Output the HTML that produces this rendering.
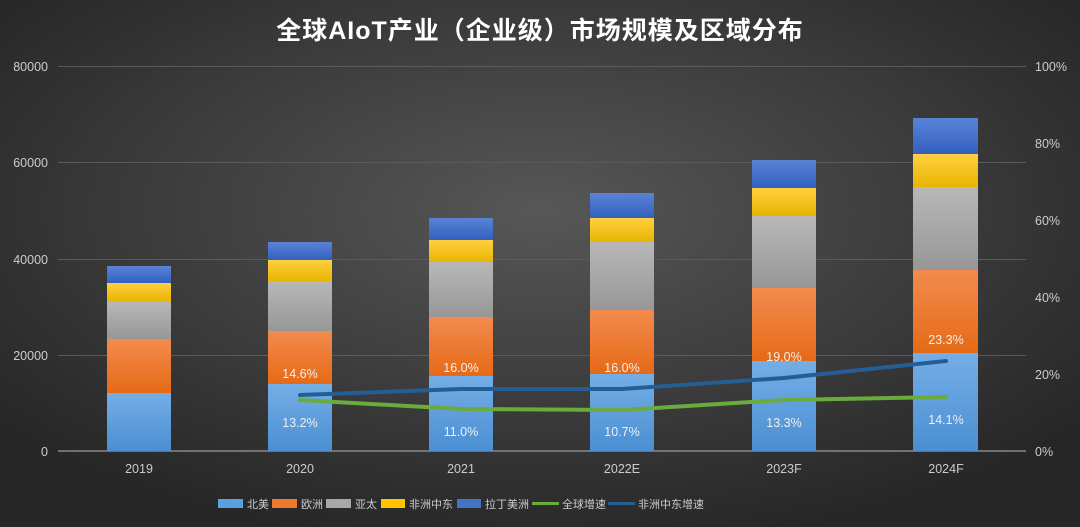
<!DOCTYPE html>
<html><head><meta charset="utf-8"><style>
html,body{margin:0;padding:0;width:1080px;height:527px;overflow:hidden;background:#333}
svg{display:block;font-family:"Liberation Sans","Noto Sans CJK SC",sans-serif}
</style></head><body>
<svg width="1080" height="527" viewBox="0 0 1080 527">
<defs>
<radialGradient id="bg" cx="50%" cy="40%" r="65%">
<stop offset="0" stop-color="#575757"/><stop offset="1" stop-color="#262626"/></radialGradient>
<linearGradient id="gb" x1="0" y1="0" x2="0" y2="1"><stop offset="0" stop-color="#75aee6"/><stop offset="1" stop-color="#4a8fd2"/></linearGradient>
<linearGradient id="go" x1="0" y1="0" x2="0" y2="1"><stop offset="0" stop-color="#f28b4e"/><stop offset="1" stop-color="#e66a17"/></linearGradient>
<linearGradient id="gg" x1="0" y1="0" x2="0" y2="1"><stop offset="0" stop-color="#b8b8b8"/><stop offset="1" stop-color="#979797"/></linearGradient>
<linearGradient id="gy" x1="0" y1="0" x2="0" y2="1"><stop offset="0" stop-color="#ffd040"/><stop offset="1" stop-color="#e8b500"/></linearGradient>
<linearGradient id="gd" x1="0" y1="0" x2="0" y2="1"><stop offset="0" stop-color="#5a83d6"/><stop offset="1" stop-color="#3260bf"/></linearGradient>
</defs>
<rect width="1080" height="527" fill="url(#bg)"/>
<text x="540" y="39" fill="#fff" font-size="25" font-weight="bold" letter-spacing="1" text-anchor="middle">全球AIoT产业（企业级）市场规模及区域分布</text>
<g stroke="#5a5a5a" stroke-width="1">
<line x1="58" y1="66.5" x2="1026" y2="66.5"/><line x1="58" y1="162.5" x2="1026" y2="162.5"/>
<line x1="58" y1="259.5" x2="1026" y2="259.5"/><line x1="58" y1="355.5" x2="1026" y2="355.5"/>
</g>
<line x1="58" y1="451" x2="1026" y2="451" stroke="#888" stroke-width="1.5"/>
<g fill="#ccc" font-size="12.5" text-anchor="end">
<text x="48" y="71">80000</text><text x="48" y="167">60000</text><text x="48" y="264">40000</text><text x="48" y="360">20000</text><text x="48" y="456">0</text>
</g>
<g fill="#ccc" font-size="12.5" text-anchor="start">
<text x="1035" y="71">100%</text><text x="1035" y="148">80%</text><text x="1035" y="225">60%</text><text x="1035" y="302">40%</text><text x="1035" y="379">20%</text><text x="1035" y="456">0%</text>
</g>
<g id="bars">
<rect x="107" y="393" width="64" height="58" fill="url(#gb)"/><rect x="107" y="339" width="64" height="54" fill="url(#go)"/><rect x="107" y="301" width="64" height="38" fill="url(#gg)"/><rect x="107" y="283" width="64" height="18" fill="url(#gy)"/><rect x="107" y="266" width="64" height="17" fill="url(#gd)"/>
<rect x="268" y="384" width="64" height="67" fill="url(#gb)"/><rect x="268" y="331" width="64" height="53" fill="url(#go)"/><rect x="268" y="281" width="64" height="50" fill="url(#gg)"/><rect x="268" y="260" width="64" height="21" fill="url(#gy)"/><rect x="268" y="242" width="64" height="18" fill="url(#gd)"/>
<rect x="429" y="376" width="64" height="75" fill="url(#gb)"/><rect x="429" y="317" width="64" height="59" fill="url(#go)"/><rect x="429" y="262" width="64" height="55" fill="url(#gg)"/><rect x="429" y="240" width="64" height="22" fill="url(#gy)"/><rect x="429" y="218" width="64" height="22" fill="url(#gd)"/>
<rect x="590" y="374" width="64" height="77" fill="url(#gb)"/><rect x="590" y="310" width="64" height="64" fill="url(#go)"/><rect x="590" y="242" width="64" height="68" fill="url(#gg)"/><rect x="590" y="218" width="64" height="24" fill="url(#gy)"/><rect x="590" y="193" width="64" height="25" fill="url(#gd)"/>
<rect x="752" y="361" width="64" height="90" fill="url(#gb)"/><rect x="752" y="288" width="64" height="73" fill="url(#go)"/><rect x="752" y="216" width="64" height="72" fill="url(#gg)"/><rect x="752" y="188" width="64" height="28" fill="url(#gy)"/><rect x="752" y="160" width="64" height="28" fill="url(#gd)"/>
<rect x="913" y="353" width="65" height="98" fill="url(#gb)"/><rect x="913" y="270" width="65" height="83" fill="url(#go)"/><rect x="913" y="187" width="65" height="83" fill="url(#gg)"/><rect x="913" y="154" width="65" height="33" fill="url(#gy)"/><rect x="913" y="118" width="65" height="36" fill="url(#gd)"/>
</g>
<polyline points="300,400 461,409 622,410 784,400 946,397" fill="none" stroke="#6aab3e" stroke-width="4" stroke-linejoin="round" stroke-linecap="round"/>
<polyline points="300,395 461,389 622,389 784,378 946,361" fill="none" stroke="#245e95" stroke-width="4" stroke-linejoin="round" stroke-linecap="round"/>
<g fill="#f0f0f0" font-size="12.5" text-anchor="middle">
<text x="300" y="378">14.6%</text><text x="461" y="372">16.0%</text><text x="622" y="372">16.0%</text><text x="784" y="361">19.0%</text><text x="946" y="344">23.3%</text>
<text x="300" y="427">13.2%</text><text x="461" y="436">11.0%</text><text x="622" y="436">10.7%</text><text x="784" y="427">13.3%</text><text x="946" y="424">14.1%</text>
</g>
<g fill="#ccc" font-size="12.5" text-anchor="middle">
<text x="139" y="473">2019</text><text x="300" y="473">2020</text><text x="461" y="473">2021</text><text x="622" y="473">2022E</text><text x="784" y="473">2023F</text><text x="946" y="473">2024F</text>
</g>
<g font-size="11" fill="#ccc">
<rect x="218" y="499" width="25" height="9" fill="#5aa0e0"/><text x="247" y="508">北美</text>
<rect x="272" y="499" width="25" height="9" fill="#ee7a30"/><text x="301" y="508">欧洲</text>
<rect x="326" y="499" width="25" height="9" fill="#a8a8a8"/><text x="355" y="508">亚太</text>
<rect x="381" y="499" width="24" height="9" fill="#ffc400"/><text x="409" y="508">非洲中东</text>
<rect x="457" y="499" width="24" height="9" fill="#4472c4"/><text x="485" y="508">拉丁美洲</text>
<line x1="532" y1="503.5" x2="559" y2="503.5" stroke="#6aab3e" stroke-width="3"/><text x="562" y="508">全球增速</text>
<line x1="608" y1="503.5" x2="635" y2="503.5" stroke="#245e95" stroke-width="3"/><text x="638" y="508">非洲中东增速</text>
</g>
</svg>
</body></html>
